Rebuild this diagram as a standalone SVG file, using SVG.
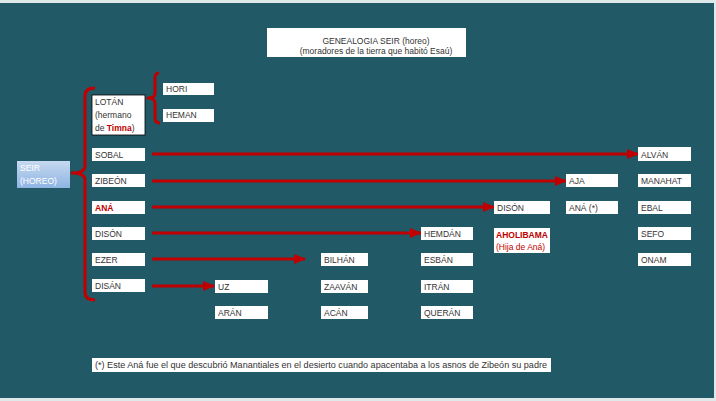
<svg xmlns="http://www.w3.org/2000/svg" width="716" height="401" viewBox="0 0 716 401">
<defs>
<style>
.bx{fill:#ffffff}
.t{font-family:"Liberation Sans",Arial,sans-serif;font-size:8.5px;fill:#333333}
.r{fill:#c00000}
.b{font-weight:bold}
.ar{stroke:#c00000;stroke-width:3;fill:none}
.br{stroke:#c00000;stroke-width:3;fill:none;stroke-linejoin:round}
</style>
<linearGradient id="seirG" x1="0" y1="0" x2="0" y2="1">
<stop offset="0" stop-color="#c6d9f0"/>
<stop offset="1" stop-color="#8eb4e3"/>
</linearGradient>
<marker id="ah" markerUnits="userSpaceOnUse" markerWidth="12" markerHeight="12" viewBox="0 0 12 12" refX="11" refY="6" orient="auto">
<path d="M0,1 L12,6 L0,11 Z" fill="#c00000"/>
</marker>
</defs>
<rect x="0" y="0" width="716" height="401" fill="#dfe9ea"/>
<rect x="0" y="3" width="714" height="395" fill="#215967"/>

<g id="title">
<rect class="bx" x="267" y="28" width="199" height="29"/>
<text class="t" x="376" y="44" text-anchor="middle">GENEALOGIA SEIR (horeo)</text>
<text class="t" x="376" y="54" text-anchor="middle">(moradores de la tierra que habitó Esaú)</text>
</g>

<g id="connectors">
<path class="br" d="M95,88 Q85,88 85,96 L85,166 Q85,173 72,173 Q85,173 85,180 L85,292 Q85,300 95,300"/>
<path class="br" d="M159,73 Q155,73 155,78 L155,93 Q155,98 148,98 Q155,98 155,103 L155,118 Q155,123 160,123"/>
<line class="ar" x1="152" y1="154" x2="638" y2="154" marker-end="url(#ah)"/>
<line class="ar" x1="152" y1="181" x2="566" y2="181" marker-end="url(#ah)"/>
<line class="ar" x1="152" y1="207" x2="494" y2="207" marker-end="url(#ah)"/>
<line class="ar" x1="152" y1="233" x2="421" y2="233" marker-end="url(#ah)"/>
<line class="ar" x1="152" y1="259" x2="305" y2="259" marker-end="url(#ah)"/>
<line class="ar" x1="152" y1="286" x2="214" y2="286" marker-end="url(#ah)"/>
</g>

<g id="seir">
<rect x="17" y="161" width="53" height="27" fill="url(#seirG)"/>
<text class="t" x="20" y="171" style="fill:#ffffff">SEIR</text>
<text class="t" x="20" y="184" style="fill:#ffffff">(HOREO)</text>
</g>

<g id="lotan">
<rect x="92" y="95" width="53" height="40" fill="#ffffff" stroke="#000000" stroke-width="0.8"/>
<text class="t" x="95" y="105">LOTÁN</text>
<text class="t" x="95" y="118">(hermano</text>
<text class="t" x="95" y="131">de <tspan class="r b">Timna</tspan>)</text>
</g>
<g id="hori"><rect class="bx" x="163" y="83" width="51" height="12"/><text class="t" x="166" y="92">HORI</text></g>
<g id="heman"><rect class="bx" x="163" y="109" width="51" height="13"/><text class="t" x="166" y="118">HEMAN</text></g>

<g id="sobal"><rect class="bx" x="92" y="148" width="53" height="13"/><text class="t" x="95" y="157.5">SOBAL</text></g>
<g id="zibeon"><rect class="bx" x="92" y="174" width="53" height="13"/><text class="t" x="95" y="184">ZIBEÓN</text></g>
<g id="ana"><rect class="bx" x="92" y="201" width="53" height="13"/><text class="t r b" x="95" y="210.5">ANÁ</text></g>
<g id="dison"><rect class="bx" x="92" y="227" width="53" height="13"/><text class="t" x="95" y="236.5">DISÓN</text></g>
<g id="ezer"><rect class="bx" x="92" y="253" width="53" height="13"/><text class="t" x="95" y="262.5">EZER</text></g>
<g id="disan"><rect class="bx" x="92" y="279" width="53" height="13"/><text class="t" x="95" y="289">DISÁN</text></g>

<g id="uz"><rect class="bx" x="215" y="280" width="53" height="13"/><text class="t" x="218" y="289.5">UZ</text></g>
<g id="aran"><rect class="bx" x="215" y="306" width="53" height="13"/><text class="t" x="218" y="315.5">ARÁN</text></g>

<g id="bilhan"><rect class="bx" x="321" y="253" width="47" height="13"/><text class="t" x="324" y="262.5">BILHÁN</text></g>
<g id="zaavan"><rect class="bx" x="321" y="280" width="47" height="13"/><text class="t" x="324" y="289.5">ZAAVÁN</text></g>
<g id="acan"><rect class="bx" x="321" y="306" width="47" height="13"/><text class="t" x="324" y="315.5">ACÁN</text></g>

<g id="hemdan"><rect class="bx" x="421" y="227" width="52" height="13"/><text class="t" x="424" y="236.5">HEMDÁN</text></g>
<g id="esban"><rect class="bx" x="421" y="253" width="52" height="13"/><text class="t" x="424" y="262.5">ESBÁN</text></g>
<g id="itran"><rect class="bx" x="421" y="280" width="52" height="13"/><text class="t" x="424" y="289.5">ITRÁN</text></g>
<g id="queran"><rect class="bx" x="421" y="306" width="52" height="13"/><text class="t" x="424" y="315.5">QUERÁN</text></g>

<g id="dison2"><rect class="bx" x="494" y="201" width="56" height="13"/><text class="t" x="497" y="210.5">DISÓN</text></g>
<g id="aholibama"><rect class="bx" x="494" y="228" width="56" height="25"/><text class="t r b" x="496" y="238">AHOLIBAMA</text><text class="t r" x="496" y="250">(Hija de Aná)</text></g>

<g id="aja"><rect class="bx" x="566" y="174" width="52" height="13"/><text class="t" x="569" y="184">AJA</text></g>
<g id="ana2"><rect class="bx" x="566" y="201" width="52" height="13"/><text class="t" x="569" y="210.5">ANÁ (*)</text></g>

<g id="alvan"><rect class="bx" x="638" y="147" width="53" height="14"/><text class="t" x="641" y="157.5">ALVÁN</text></g>
<g id="manahat"><rect class="bx" x="638" y="174" width="53" height="13"/><text class="t" x="641" y="184">MANAHAT</text></g>
<g id="ebal"><rect class="bx" x="638" y="201" width="53" height="13"/><text class="t" x="641" y="210.5">EBAL</text></g>
<g id="sefo"><rect class="bx" x="638" y="227" width="53" height="13"/><text class="t" x="641" y="236.5">SEFO</text></g>
<g id="onam"><rect class="bx" x="638" y="253" width="53" height="13"/><text class="t" x="641" y="262.5">ONAM</text></g>

<g id="footnote">
<rect class="bx" x="92" y="358" width="459" height="14"/>
<text class="t" x="95" y="368" textLength="452" lengthAdjust="spacingAndGlyphs">(*) Este Aná fue el que descubrió Manantiales en el desierto cuando apacentaba a los asnos de Zibeón su padre</text>
</g>
</svg>
